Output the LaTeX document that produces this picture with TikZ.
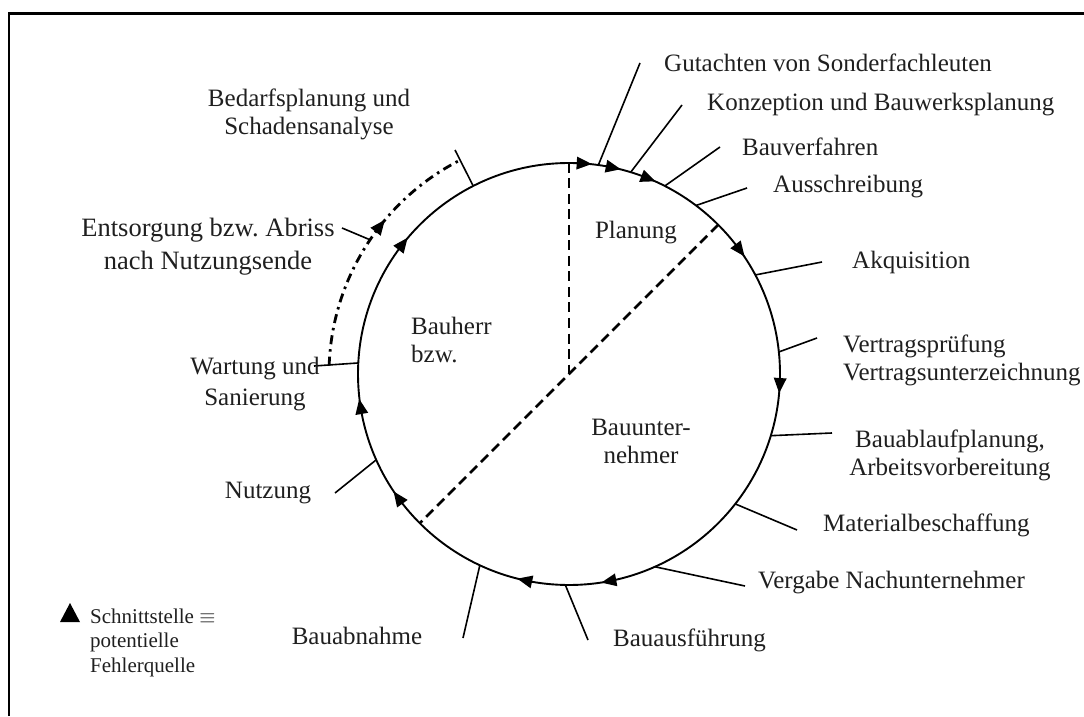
\documentclass[tikz,border=0pt]{standalone}
\usepackage{fontspec}
\setmainfont{Liberation Serif}
\usetikzlibrary{calc}
\frenchspacing
\begin{document}
\begin{tikzpicture}[x=1pt,y=1pt,
  lbl/.style={font=\fontsize{25}{28}\selectfont, inner sep=0pt, text=black!88},
  legendtext/.style={font=\fontsize{21}{24.5}\selectfont, inner sep=0pt, text=black!88},
  tick/.style={line width=1.6pt},
  ringline/.style={line width=1.9pt},
  split/.style={line width=2.8pt, dash pattern=on 10pt off 5.5pt},
  backloop/.style={line width=2.8pt, dash pattern=on 9pt off 5pt on 2.5pt off 5pt},
  cut/.style={fill=black},
  cutmark/.pic={\fill[cut] (8,0) -- (-7,6.5) -- (-7,-6.5) -- cycle;},
]
\useasboundingbox (0,0) rectangle (1084,716);
% frame
\draw[line width=2.4pt] (9,0) -- (9,702.5) -- (1084,702.5);

% the life cycle ring
\node[draw, ringline, circle, minimum size=422pt, inner sep=0pt, outer sep=0pt] (ring) at (569,342) {};
\coordinate (O) at (569,342);

% partition of responsibilities
\draw[split] (ring.90) -- (O);
\draw[split] (ring.45) -- (ring.225);

% interfaces along the ring (clockwise flow)
\foreach \a in {86.5,78.4,68.6,36.9,-3.8,-79.4,-102.5,-144.3,189.9,142.3}
  \pic[rotate=\a-90] at (ring.\a) {cutmark};

% return path after end of use
\coordinate (bl0) at ($(O)+(178:240)$);
\coordinate (blm) at ($(O)+(146:240)$);
\draw[backloop] (bl0) arc[start angle=178, end angle=117, radius=240];
\pic[rotate=142-90] at ($(O)+(142:240)$) {cutmark};

% outer ends of the leader lines
\coordinate (eGut) at (640,653);
\coordinate (eKon) at (682,611);
\coordinate (eBv)  at (720,569);
\coordinate (eAus) at (747,528);
\coordinate (eAkq) at (822,454);
\coordinate (eVer) at (817,378);
\coordinate (eBap) at (832,283);
\coordinate (eMat) at (797,186);
\coordinate (eVg)  at (745,130);
\coordinate (eAf)  at (588,76);
\coordinate (eAbn) at (463,78);
\coordinate (eNut) at (335,223);
\coordinate (eWar) at (314,350);
\coordinate (eEnt) at (342,488);
\coordinate (eBed) at (455,566);

\draw[tick] (ring.82.3) -- (eGut);
\draw[tick] (ring.73.6) -- (eKon);
\draw[tick] (ring.63) -- (eBv);
\draw[tick] (ring.53) -- (eAus);
\draw[tick] (ring.28) -- (eAkq);
\draw[tick] (ring.6) -- (eVer);
\draw[tick] (ring.-17.2) -- (eBap);
\draw[tick] (ring.-38.9) -- (eMat);
\draw[tick] (ring.-66.6) -- (eVg);
\draw[tick] (ring.-91.6) -- (eAf);
\draw[tick] (ring.-115) -- (eAbn);
\draw[tick] (ring.204.9) -- (eNut);
\draw[tick] (ring.177.8) -- (eWar);
\draw[tick] (blm) -- (eEnt);
\draw[tick] (ring.117) -- (eBed);

% phase labels
\node[lbl, anchor=west] (gut) at (664,653) {Gutachten von Sonderfachleuten};
\node[lbl, anchor=west] (konz) at (707,611) {Konzeption und Bauwerksplanung};
\node[lbl, anchor=west] (bauv) at (742,569) {Bauverfahren};
\node[lbl, anchor=west] (auss) at (773,529) {Ausschreibung};
\node[lbl, anchor=west] (akq) at (852,454) {Akquisition};
\node[lbl, anchor=west, align=left] (vert) at (843,356) {Vertragsprüfung\\Vertragsunterzeichnung};
\node[lbl, align=center] (bap) at (950,261) {Bauablaufplanung,\\Arbeitsvorbereitung};
\node[lbl, anchor=west] (mat) at (823,191) {Materialbeschaffung};
\node[lbl, anchor=east] (verg) at (1025,133) {Vergabe Nachunternehmer};
\node[lbl, anchor=west] (ausf) at (613,76) {Bauausführung};
\node[lbl] (abn) at (357,80) {Bauabnahme};
\node[lbl] (nutz) at (268,223) {Nutzung};
\node[lbl, align=center, font=\fontsize{25}{31}\selectfont] (wart) at (255,332) {Wartung und\\Sanierung};
\node[lbl, align=center, font=\fontsize{26.5}{33}\selectfont] (ents) at (208,469) {Entsorgung bzw. Abriss\\nach Nutzungsende};
\node[lbl, align=center] (bed) at (309,602) {Bedarfsplanung und\\Schadensanalyse};

% parties
\node[lbl] (plan) at (636,483) {Planung};
\node[lbl, anchor=west, align=left] (bh) at (411,376) {Bauherr\\bzw.};
\node[lbl, align=center] (bu) at (641,275) {Bauunter-\\nehmer};

% legend
\fill[cut] (60,94) -- (80,94) -- (70,113) -- cycle;
\node[legendtext, anchor=west, align=left] (leg) at (90,73.5) {Schnittstelle $\equiv$\\potentielle\\Fehlerquelle};
\end{tikzpicture}
\end{document}
